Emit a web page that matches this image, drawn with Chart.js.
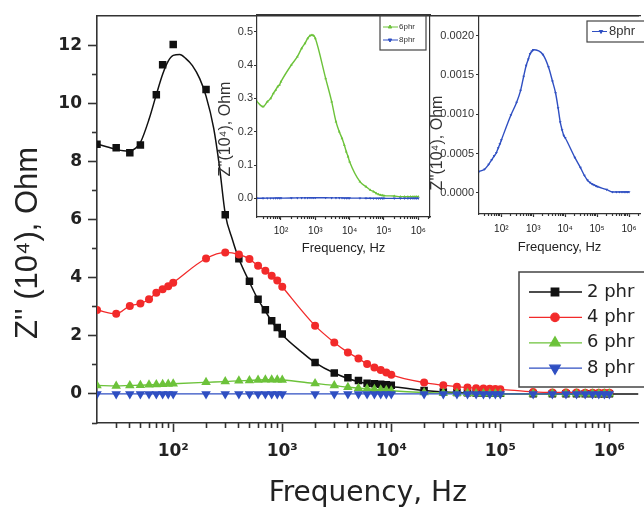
<!DOCTYPE html>
<html><head><meta charset="utf-8">
<script src="https://cdn.jsdelivr.net/npm/chart.js@4"></script>
<style>
html,body{margin:0;padding:0;background:#fff;overflow:hidden;}
#wrap{position:relative;width:644px;height:511px;overflow:hidden;}
canvas{position:absolute;}
#main{left:0;top:0;width:644px;height:511px;}
#ins1{left:212px;top:0;width:222px;height:262px;}
#ins2{left:420px;top:0;width:224px;height:262px;}
</style></head><body>
<div id="wrap">
<canvas id="main" width="644" height="511"></canvas>
<canvas id="ins1" width="222" height="262"></canvas>
<canvas id="ins2" width="224" height="262"></canvas>
</div>
<script>
// ---------- data ----------
const FREQ = [20,30,40,50,60,70,80,90,100,
  200,300,400,500,600,700,800,900,1000,
  2000,3000,4000,5000,6000,7000,8000,9000,10000,
  20000,30000,40000,50000,60000,70000,80000,90000,100000,
  200000,300000,400000,500000,600000,700000,800000,900000,1000000];
const Z_2PHR = [8.59,8.47,8.30,8.57,null,10.30,11.33,null,12.03,
  10.48,6.17,4.65,3.88,3.26,2.90,2.52,2.29,2.06,
  1.08,0.72,0.56,0.46,0.37,0.35,0.33,0.32,0.30,
  0.12,0.07,0.05,0.04,0.03,0.03,0.02,0.02,0.02,
  0.01,0.01,0.01,0.01,0.01,0.01,0.01,0.01,0.01];
const FIT_FREQ = [20,25,30,35,40,45,50,60,70,80,90,100,115,130,150,175,200,235,265,300,350,400,500,600,700,800,1000,1500,2000,3000,5000,10000,20000,50000,100000,1000000,1850000];
const FIT_2PHR = [8.6,8.5,8.42,8.37,8.36,8.45,8.65,9.45,10.3,11.0,11.45,11.65,11.68,11.55,11.3,10.85,10.25,9.15,7.85,6.2,5.3,4.65,3.85,3.25,2.85,2.5,2.04,1.45,1.08,0.72,0.42,0.26,0.12,0.03,0.01,0,0];
const Z_4PHR = [2.89,2.76,3.03,3.11,3.26,3.48,3.60,3.71,3.83,
  4.66,4.87,4.80,4.64,4.41,4.24,4.07,3.90,3.69,
  2.35,1.77,1.43,1.22,1.03,0.91,0.82,0.74,0.66,
  0.39,0.30,0.25,0.22,0.20,0.19,0.18,0.17,0.16,
  0.07,0.05,0.05,0.05,0.04,0.04,0.04,0.04,0.04];
const Z_6PHR = [0.29,0.275,0.29,0.30,0.315,0.325,0.335,0.34,0.35,
  0.40,0.425,0.45,0.465,0.48,0.488,0.49,0.488,0.48,
  0.36,0.29,0.23,0.20,0.18,0.16,0.14,0.125,0.11,
  0.05,0.035,0.025,0.02,0.015,0.012,0.01,0.009,0.008,
  0.007,0.005,0.005,0.005,0.005,0.005,0.005,0.005,0.005];
const Z_8PHR = [0.00027,0.00030,0.00036,0.00042,0.00047,0.00051,0.00057,0.00062,0.00067,
  0.00099,0.00115,0.00130,0.00148,0.00162,0.00170,0.00177,0.00180,0.00182,
  0.00176,0.00160,0.00142,0.00127,0.00108,0.00090,0.00080,0.00073,0.00070,
  0.00045,0.00032,0.00022,0.00016,0.00013,0.00011,0.00010,0.00009,0.00008,
  0.00004,0.00001,0.00001,0.00001,0.00001,0.00001,0.00001,0.00001,0.00001];
const SERIES_NAMES = ['2 phr','4 phr','6 phr','8 phr'];
const INSET1_NAMES = ['6phr','8phr'];
const INSET2_NAMES = ['8phr'];
const X_MAJOR = [100,1000,10000,100000,1000000];
const X_TICK_LABELS = ['10\u00B2','10\u00B3','10\u2074','10\u2075','10\u2076'];
const Y_MAIN_TICKS = [0,2,4,6,8,10,12];
const Y_MAIN_MINOR = [-1,1,3,5,7,9,11];
const Y_INS1_TICKS = [0,0.1,0.2,0.3,0.4,0.5];
const Y_INS2_TICKS = [0,0.0005,0.0010,0.0015,0.0020];
const X_TITLE = 'Frequency, Hz';
const MAIN_Y_TITLE = "Z'' (10\u2074), Ohm";
const INSET_Y_TITLE = "Z''(10\u2074), Ohm";

// ---------- styles ----------
const BLACK = '#111111', RED = '#f22a2a', GREEN = '#6cc23a', BLUE = '#2f4fc2';
const AXC = '#333333';
const NARROW = "'Liberation Sans Narrow','Arial Narrow','Liberation Sans',sans-serif";
const DEJA = "'DejaVu Sans',sans-serif";

const pts = (xs, ys) => xs.map((x, i) => ({x: x, y: ys[i]}));
const xMinorList = (lo, hi) => { const a = []; for (let e = 1; e <= 6; e++) for (let m = 2; m <= 9; m++) { const v = m * Math.pow(10, e); if (v > lo && v < hi) a.push(v); } return a; };
const setTicks = list => (s => { s.ticks = list.map(v => ({value: v})); });
const fixW = w => (s => { s.width = w; });
const fixH = h => (s => { s.height = h; });
const xLabel = v => { const i = X_MAJOR.indexOf(v); return i >= 0 ? X_TICK_LABELS[i] : ''; };

const decor = {
  id: 'decor',
  afterDraw(chart, args, o) {
    const ctx = chart.ctx;
    if (o.ytitle) {
      const t = o.ytitle;
      ctx.save(); ctx.translate(t.x, t.y); ctx.rotate(-Math.PI / 2);
      ctx.font = t.font; ctx.fillStyle = t.color || '#222'; ctx.textAlign = 'center'; ctx.textBaseline = 'middle';
      ctx.fillText(t.text, 0, 0); ctx.restore();
    }
    if (o.legend) {
      const L = o.legend;
      ctx.save();
      ctx.fillStyle = '#fff'; ctx.fillRect(L.box[0], L.box[1], L.box[2], L.box[3]);
      ctx.strokeStyle = L.boxColor; ctx.lineWidth = L.boxWidth; ctx.strokeRect(L.box[0], L.box[1], L.box[2], L.box[3]);
      L.items.forEach((it, i) => {
        const y = L.y0 + i * L.dy;
        ctx.strokeStyle = it.color; ctx.lineWidth = L.lw;
        ctx.beginPath(); ctx.moveTo(L.x1, y); ctx.lineTo(L.x2, y); ctx.stroke();
        ctx.fillStyle = it.color;
        Chart.helpers.drawPoint(ctx, {pointStyle: it.style, radius: it.r, rotation: it.rot || 0, borderWidth: 1}, L.xm, y);
        ctx.fillStyle = L.textColor; ctx.font = L.font; ctx.textAlign = 'left'; ctx.textBaseline = 'middle';
        ctx.fillText(it.label, L.xt, y);
      });
      ctx.restore();
    }
  }
};

function baseX(min, max, opt) {
  return {
    x: {type: 'logarithmic', position: 'bottom', min: min, max: max, weight: 1,
      afterBuildTicks: setTicks(X_MAJOR), afterFit: fixH(opt.h),
      grid: {drawOnChartArea: false, tickLength: opt.tl, tickWidth: opt.bw, tickColor: AXC},
      border: {display: true, color: AXC, width: opt.bw},
      ticks: {callback: xLabel, autoSkip: false, maxRotation: 0, padding: opt.pad, color: '#222', font: opt.font},
      title: {display: true, text: X_TITLE, color: '#222', font: opt.tfont, padding: {top: 0, bottom: opt.tpad}}},
    xMinor: {type: 'logarithmic', position: 'bottom', min: min, max: max, weight: 0,
      afterBuildTicks: setTicks(xMinorList(min, max)), afterFit: fixH(0),
      grid: {drawOnChartArea: false, tickLength: opt.tlm, tickWidth: opt.bw, tickColor: AXC},
      border: {display: false}, ticks: {display: false, autoSkip: false}},
    xTop: {type: 'linear', position: 'top', afterFit: fixH(opt.top),
      grid: {display: false}, border: {display: true, color: AXC, width: opt.bw}, ticks: {display: false}}
  };
}

// ---------- main chart ----------
const mainScales = Object.assign(baseX(20, 1.85e6, {h: 88, tl: 9, tlm: 5, bw: 1.6, pad: 9, top: 13, tpad: 0,
    font: {family: DEJA, size: 17, weight: 'bold'}, tfont: {family: DEJA, size: 28}}), {
  y: {type: 'linear', position: 'left', min: -1, max: 13, weight: 1,
    afterBuildTicks: setTicks(Y_MAIN_TICKS), afterFit: fixW(97),
    grid: {drawOnChartArea: false, tickLength: 9, tickWidth: 1.6, tickColor: AXC},
    border: {display: true, color: AXC, width: 1.6},
    ticks: {padding: 6, color: '#222', font: {family: DEJA, size: 17, weight: 'bold'}}},
  yMinor: {type: 'linear', position: 'left', min: -1, max: 13, weight: 0,
    afterBuildTicks: setTicks(Y_MAIN_MINOR), afterFit: fixW(0),
    grid: {drawOnChartArea: false, tickLength: 5, tickWidth: 1.6, tickColor: AXC},
    border: {display: false}, ticks: {display: false}}
});

new Chart(document.getElementById('main'), {
  type: 'line',
  data: {datasets: [
    {label: SERIES_NAMES[0], data: pts(FREQ, Z_2PHR), showLine: false, pointStyle: 'rect', pointRadius: 5.3,
      backgroundColor: BLACK, borderColor: BLACK, pointBorderWidth: 0, order: 4, xAxisID: 'x', yAxisID: 'y'},
    {label: SERIES_NAMES[0] + ' fit', data: pts(FIT_FREQ, FIT_2PHR), pointRadius: 0, borderColor: BLACK, borderWidth: 1.5,
      tension: 0.4, cubicInterpolationMode: 'monotone', order: 5, xAxisID: 'x', yAxisID: 'y'},
    {label: SERIES_NAMES[1], data: pts(FREQ, Z_4PHR), pointStyle: 'circle', pointRadius: 4,
      backgroundColor: RED, borderColor: RED, borderWidth: 1.3, pointBorderWidth: 0,
      tension: 0.4, cubicInterpolationMode: 'monotone', order: 3, xAxisID: 'x', yAxisID: 'y'},
    {label: SERIES_NAMES[2], data: pts(FREQ, Z_6PHR), pointStyle: 'triangle', pointRadius: 5.5,
      backgroundColor: GREEN, borderColor: GREEN, borderWidth: 1.3, pointBorderWidth: 0,
      tension: 0.4, cubicInterpolationMode: 'monotone', order: 2, xAxisID: 'x', yAxisID: 'y'},
    {label: SERIES_NAMES[3], data: pts(FREQ, Z_8PHR), pointStyle: 'triangle', pointRotation: 180, pointRadius: 5.5,
      backgroundColor: BLUE, borderColor: BLUE, borderWidth: 1.3, pointBorderWidth: 0,
      tension: 0.4, cubicInterpolationMode: 'monotone', order: 1, xAxisID: 'x', yAxisID: 'y'}
  ]},
  options: {
    responsive: false, animation: false, events: [],
    layout: {padding: 0},
    scales: mainScales,
    plugins: {legend: {display: false}, tooltip: {enabled: false},
      decor: {
        ytitle: {text: MAIN_Y_TITLE, x: 28, y: 243, font: "31px 'Liberation Sans', Arial, sans-serif", color: '#222'},
        legend: {box: [519, 272, 140, 115], boxColor: '#444', boxWidth: 1.5, x1: 529, x2: 582, xm: 555, xt: 587,
          y0: 292, dy: 25.4, lw: 1.3, textColor: '#222', font: "18px 'DejaVu Sans', sans-serif",
          items: [
            {label: SERIES_NAMES[0], color: BLACK, style: 'rect', r: 5.3},
            {label: SERIES_NAMES[1], color: RED, style: 'circle', r: 4.2},
            {label: SERIES_NAMES[2], color: GREEN, style: 'triangle', r: 6},
            {label: SERIES_NAMES[3], color: BLUE, style: 'triangle', r: 6, rot: 180}]}
      }}
  },
  plugins: [decor]
});

// ---------- inset 1 (6 phr, 8 phr) ----------
const in1Scales = Object.assign(baseX(20, 2.2e6, {h: 45, tl: 3, tlm: 2, bw: 1.2, pad: 5, top: 15, tpad: 6,
    font: {family: NARROW, size: 10}, tfont: {family: NARROW, size: 13}}), {
  y: {type: 'linear', position: 'left', min: -0.056, max: 0.55, weight: 1,
    afterBuildTicks: setTicks(Y_INS1_TICKS), afterFit: fixW(45),
    grid: {drawOnChartArea: false, tickLength: 3, tickWidth: 1.2, tickColor: AXC},
    border: {display: true, color: AXC, width: 1.2},
    ticks: {padding: 1, color: '#333', font: {family: NARROW, size: 11}, callback: v => v.toFixed(1)}},
  yRight: {type: 'linear', position: 'right', afterFit: fixW(4),
    grid: {display: false}, border: {display: true, color: AXC, width: 1.2}, ticks: {display: false}}
});
new Chart(document.getElementById('ins1'), {
  type: 'line',
  data: {datasets: [
    {label: INSET1_NAMES[1], data: pts(FREQ, Z_8PHR), pointStyle: 'triangle', pointRotation: 180, pointRadius: 1.6,
      backgroundColor: BLUE, borderColor: BLUE, borderWidth: 1.3, pointBorderWidth: 0, tension: 0.3,
      cubicInterpolationMode: 'monotone', xAxisID: 'x', yAxisID: 'y'},
    {label: INSET1_NAMES[0], data: pts(FREQ, Z_6PHR), pointStyle: 'triangle', pointRadius: 1.6,
      backgroundColor: GREEN, borderColor: GREEN, borderWidth: 1.4, pointBorderWidth: 0, tension: 0.3,
      cubicInterpolationMode: 'monotone', xAxisID: 'x', yAxisID: 'y'}
  ]},
  options: {
    responsive: false, animation: false, events: [], layout: {padding: 0},
    scales: in1Scales,
    plugins: {legend: {display: false}, tooltip: {enabled: false},
      decor: {
        ytitle: {text: INSET_Y_TITLE, x: 14, y: 129, font: "16px 'Liberation Sans', Arial, sans-serif", color: '#333'},
        legend: {box: [168, 16, 46, 34], boxColor: '#444', boxWidth: 1.2, x1: 171, x2: 186, xm: 178, xt: 187,
          y0: 27, dy: 13, lw: 1, textColor: '#333', font: "8px " + NARROW,
          items: [
            {label: INSET1_NAMES[0], color: GREEN, style: 'triangle', r: 2},
            {label: INSET1_NAMES[1], color: BLUE, style: 'triangle', r: 2, rot: 180}]}
      }}
  },
  plugins: [decor]
});

// ---------- inset 2 (8 phr) ----------
const in2Scales = Object.assign(baseX(20, 2.2e6, {h: 48, tl: 3, tlm: 2, bw: 1.2, pad: 6, top: 16, tpad: 7,
    font: {family: NARROW, size: 10}, tfont: {family: NARROW, size: 13}}), {
  y: {type: 'linear', position: 'left', min: -0.00027, max: 0.00225, weight: 1,
    afterBuildTicks: setTicks(Y_INS2_TICKS), afterFit: fixW(59),
    grid: {drawOnChartArea: false, tickLength: 3, tickWidth: 1.2, tickColor: AXC},
    border: {display: true, color: AXC, width: 1.2},
    ticks: {padding: 2, color: '#333', font: {family: NARROW, size: 11}, callback: v => v.toFixed(4)}}
});
new Chart(document.getElementById('ins2'), {
  type: 'line',
  data: {datasets: [
    {label: INSET2_NAMES[0], data: pts(FREQ, Z_8PHR), pointStyle: 'triangle', pointRotation: 180, pointRadius: 1.6,
      backgroundColor: BLUE, borderColor: BLUE, borderWidth: 1.4, pointBorderWidth: 0, tension: 0.3,
      cubicInterpolationMode: 'monotone', xAxisID: 'x', yAxisID: 'y'}
  ]},
  options: {
    responsive: false, animation: false, events: [], layout: {padding: 0},
    scales: in2Scales,
    plugins: {legend: {display: false}, tooltip: {enabled: false},
      decor: {
        ytitle: {text: INSET_Y_TITLE, x: 18, y: 143, font: "16px 'Liberation Sans', Arial, sans-serif", color: '#333'},
        legend: {box: [167, 21, 70, 21], boxColor: '#444', boxWidth: 1.2, x1: 172, x2: 187, xm: 181, xt: 189,
          y0: 31.5, dy: 13, lw: 1, textColor: '#333', font: "13px " + NARROW,
          items: [{label: INSET2_NAMES[0], color: BLUE, style: 'triangle', r: 2, rot: 180}]}
      }}
  },
  plugins: [decor]
});
</script>
</body></html>
